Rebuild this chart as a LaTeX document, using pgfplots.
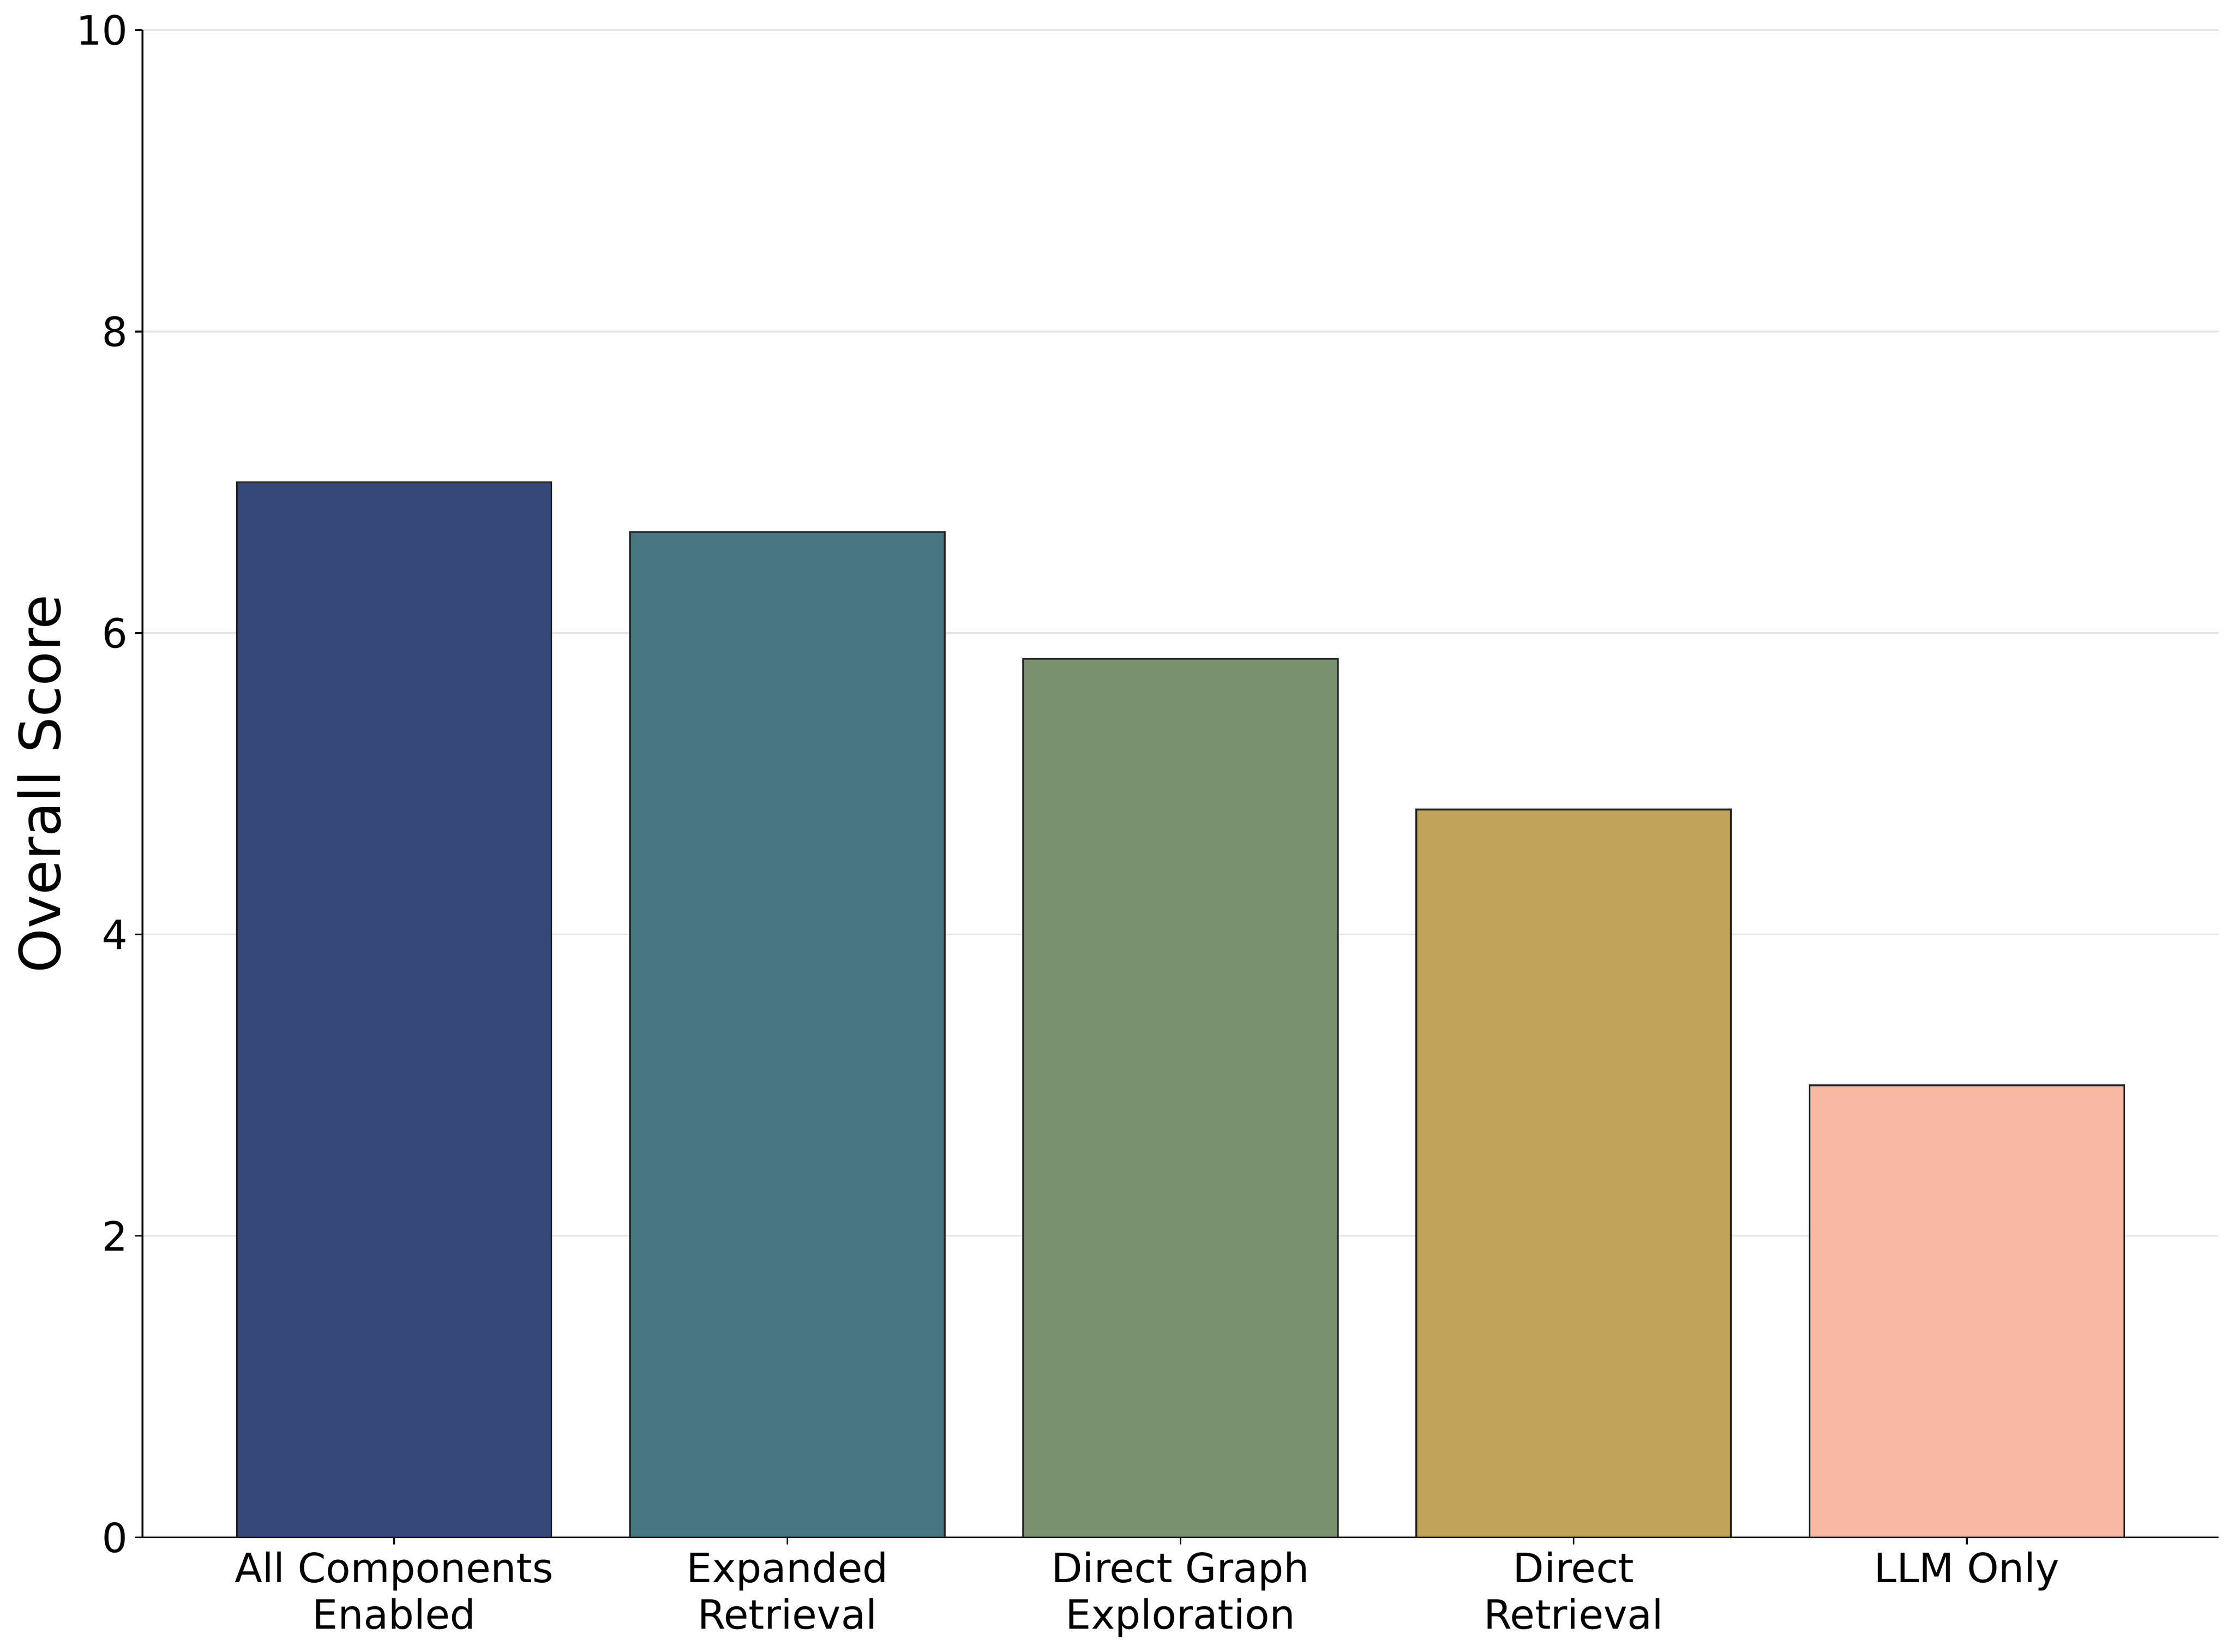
\documentclass[border=0pt]{standalone}
\usepackage{fontspec}
\setmainfont{DejaVu Sans}
\usepackage{pgfplots}
\pgfplotsset{compat=1.18}

\definecolor{barA}{HTML}{354879}
\definecolor{barB}{HTML}{477680}
\definecolor{barC}{HTML}{7A916E}
\definecolor{barD}{HTML}{C1A45A}
\definecolor{barE}{HTML}{F9B8A4}

\pgfplotsset{
  scorebar/.style={ybar, bar width=0.8, bar shift=0pt, draw=black!85, line width=0.9pt, fill=#1},
}

\begin{document}
\begin{tikzpicture}
\begin{axis}[
    width=1028pt, height=746.4pt, scale only axis,
    xmin=-0.64, xmax=4.64, ymin=0, ymax=10,
    axis lines*=left,
    axis line style={black, line width=0.8pt},
    xtick={0,1,2,3,4},
    xticklabels={{All Components\\Enabled},{Expanded\\Retrieval},{Direct Graph\\Exploration},{Direct\\Retrieval},{LLM Only}},
    ytick={0,2,4,6,8,10},
    tick align=outside,
    major tick length=3.5pt,
    tick style={black, line width=0.8pt},
    ymajorgrids,
    grid style={color=black!10, line width=0.8pt},
    tick label style={font=\fontsize{20}{23}\selectfont},
    xticklabel style={align=center, inner sep=0pt, yshift=-3.5pt},
    yticklabel style={inner sep=0pt, xshift=-3.5pt},
    /pgf/number format/assume math mode=true,
    ylabel={Overall Score},
    ylabel style={font=\fontsize{28}{34}\selectfont, at={(rel axis cs:-0.039,0.5)}, anchor=south, inner sep=0pt},
]
\addplot[scorebar=barA] coordinates {(0,7.00)};
\addplot[scorebar=barB] coordinates {(1,6.67)};
\addplot[scorebar=barC] coordinates {(2,5.83)};
\addplot[scorebar=barD] coordinates {(3,4.83)};
\addplot[scorebar=barE] coordinates {(4,3.00)};
\coordinate (sw) at (rel axis cs:0,0);
\coordinate (ne) at (rel axis cs:1,1);
\end{axis}
\pgfresetboundingbox
\path ([shift={(-70.56pt,-56.64pt)}]sw) rectangle ([shift={(7.68pt,14.88pt)}]ne);
\end{tikzpicture}
\end{document}
